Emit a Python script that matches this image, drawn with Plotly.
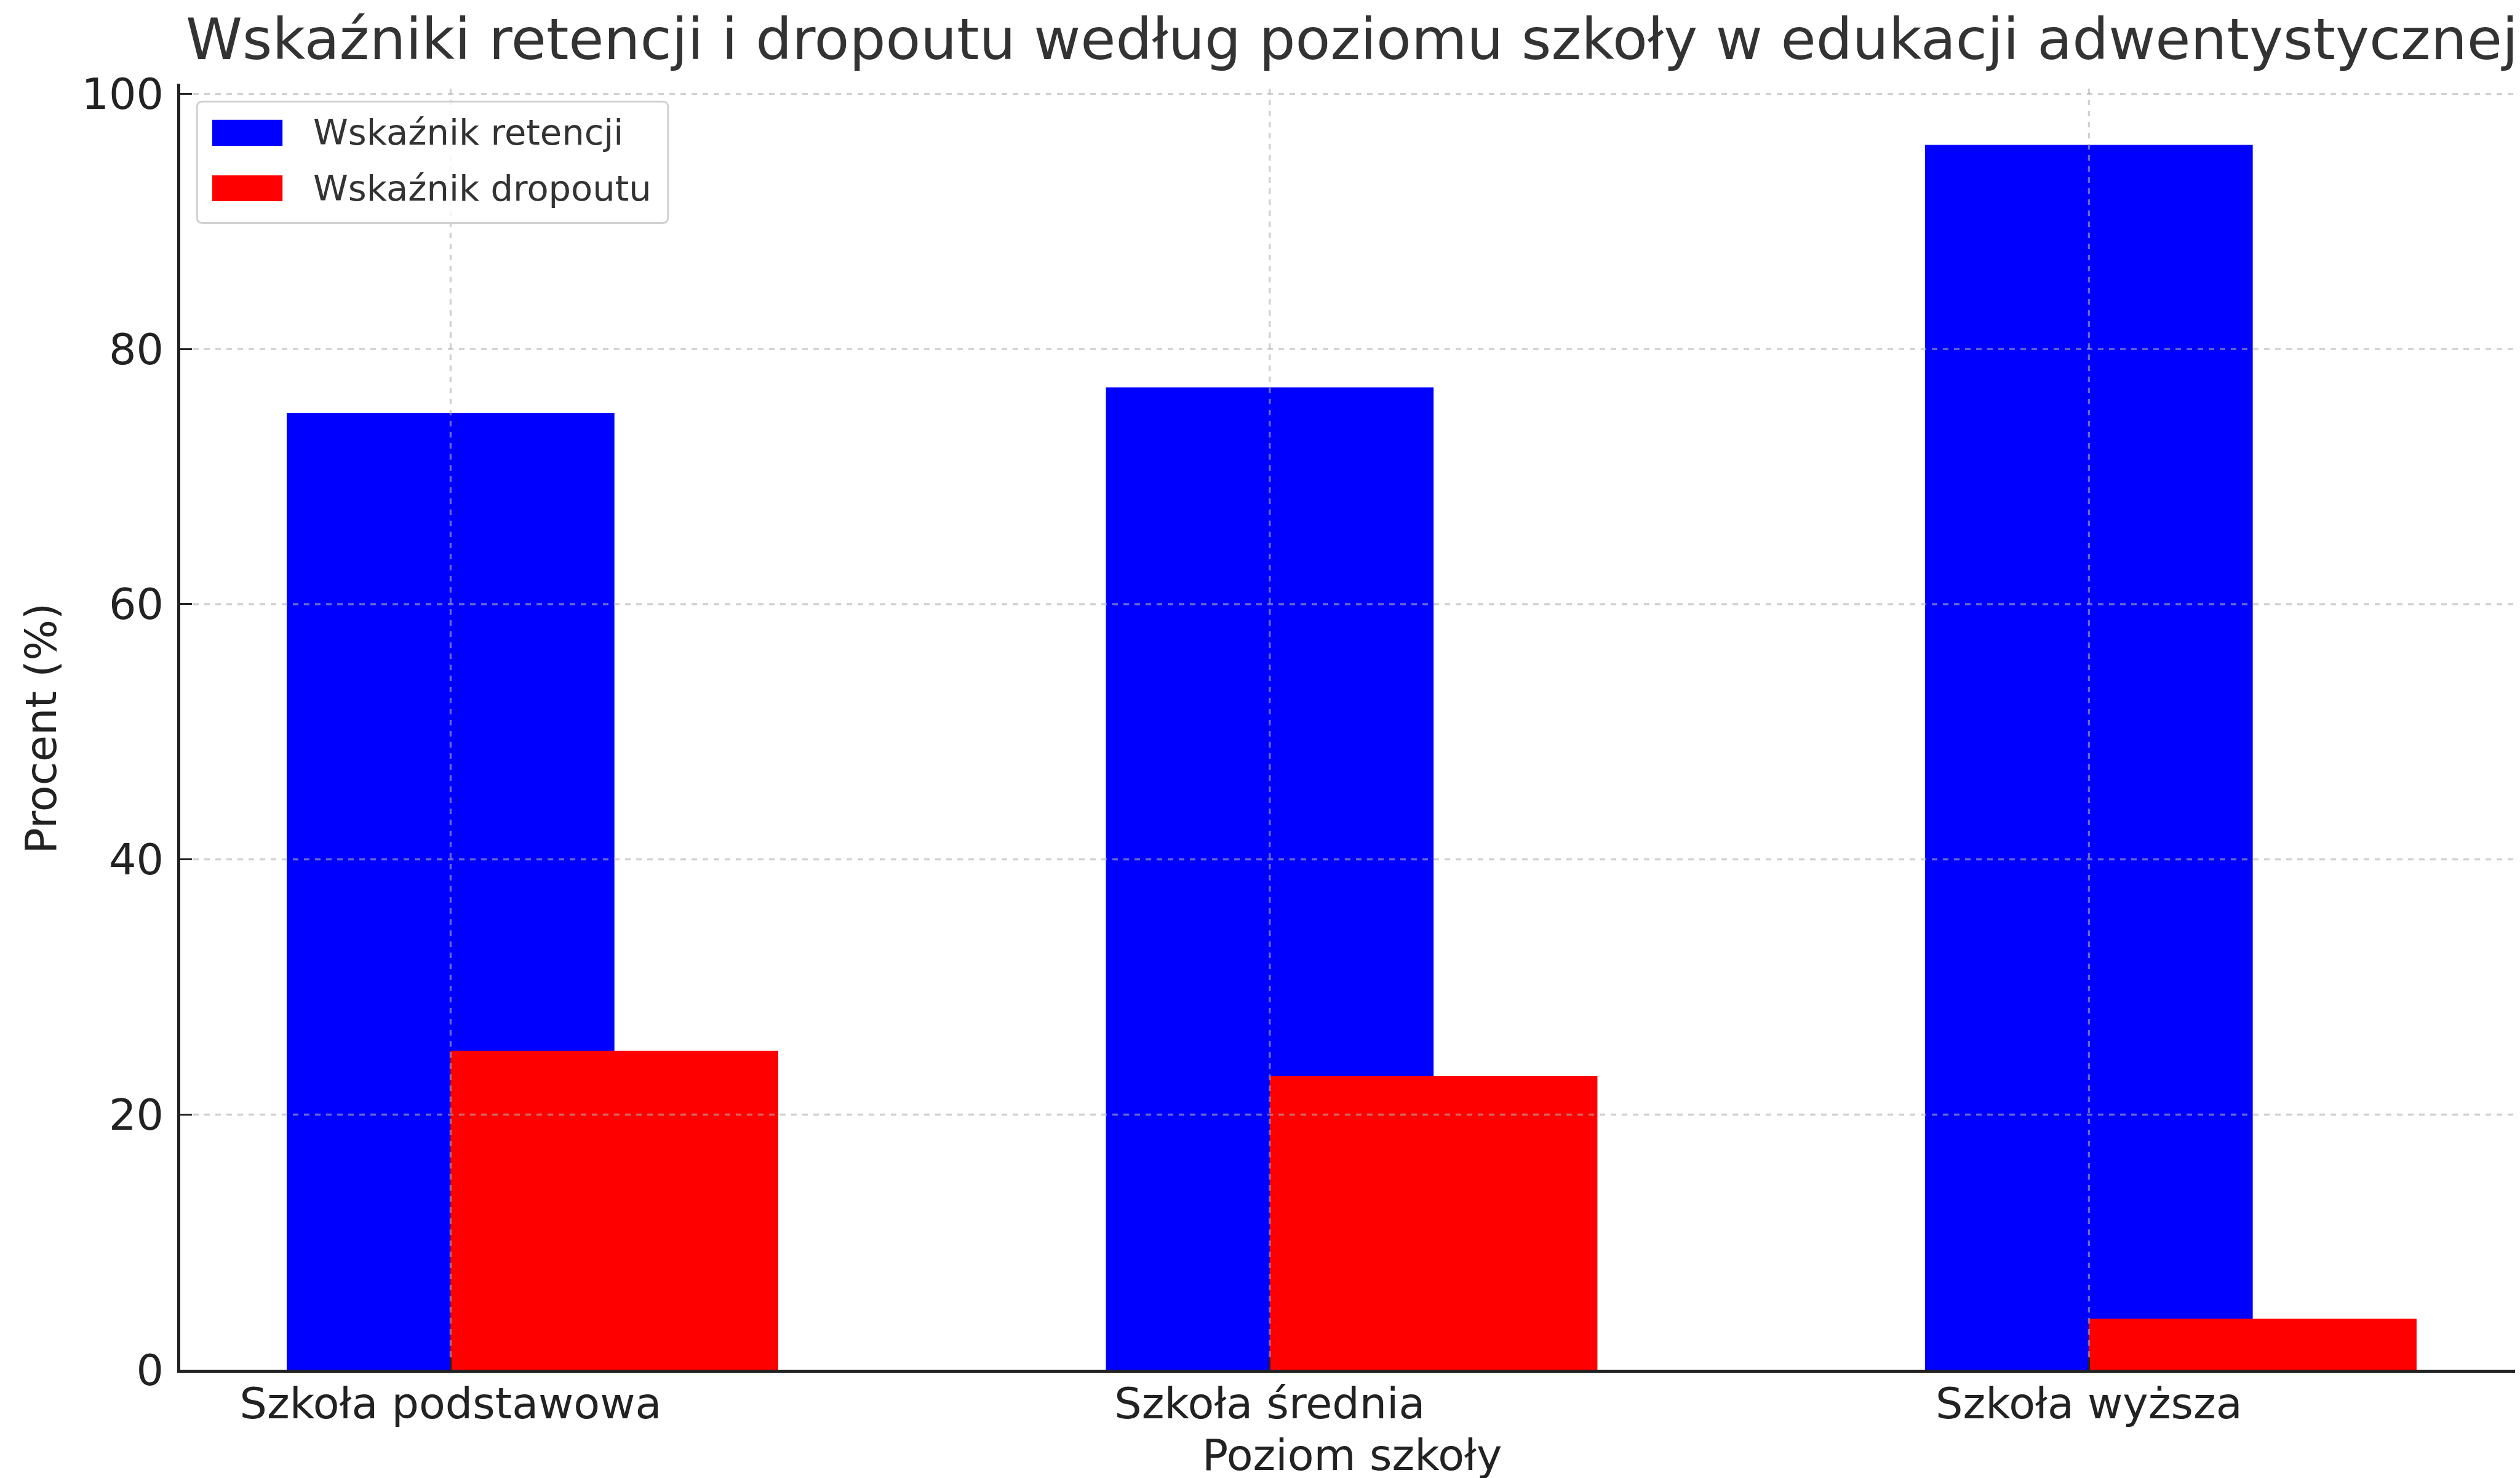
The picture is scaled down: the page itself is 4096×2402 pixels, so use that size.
import plotly.graph_objects as go

# ---- data ----
categories = ["Szkoła podstawowa", "Szkoła średnia", "Szkoła wyższa"]
retention = [75, 77, 96]
dropout = [25, 23, 4]
series_names = ["Wskaźnik retencji", "Wskaźnik dropoutu"]
series_colors = ["#0000ff", "#ff0000"]
y_ticks = [0, 20, 40, 60, 80, 100]
title_text = "Wskaźniki retencji i dropoutu według poziomu szkoły w edukacji adwentystycznej"
x_title = "Poziom szkoły"
y_title = "Procent (%)"

# ---- geometry ----
W, H = 4096, 2402
L, R, T, B = 285, 3, 128, 184
PW = W - L - R
PH = H - T - B
FONT = "DejaVu Sans"
TXT = "#222222"
TXT2 = "#333333"


def px_x(px):
    return (px - L) / PW


def px_y(py):
    return (H - B - py) / PH


xpos = list(range(len(categories)))
bar_w = 0.4

fig = go.Figure()
fig.add_trace(go.Bar(x=xpos, y=retention, name=series_names[0], width=bar_w, offset=-bar_w / 2,
                     marker=dict(color=series_colors[0], line=dict(width=0)), showlegend=False))
fig.add_trace(go.Bar(x=xpos, y=dropout, name=series_names[1], width=bar_w, offset=0,
                     marker=dict(color=series_colors[1], line=dict(width=0)), showlegend=False))

x_lo = -bar_w / 2 - 0.05 * (len(categories) - 1 + 1.5 * bar_w)
x_hi = len(categories) - 1 + bar_w + 0.05 * (len(categories) - 1 + 1.5 * bar_w)
y_hi = max(retention) * 1.05

ticklen = 19
shapes = []
grid_line = dict(color="rgba(176,176,176,0.6)", width=3.2, dash="9px,9px")
for yv in y_ticks[1:]:
    shapes.append(dict(type="line", xref="paper", yref="y", x0=px_x(L + ticklen + 2), x1=1,
                       y0=yv, y1=yv, line=grid_line, layer="above"))
for xv in xpos:
    shapes.append(dict(type="line", xref="x", yref="paper", x0=xv, x1=xv,
                       y0=px_y(H - B - ticklen - 2), y1=1, line=grid_line, layer="above"))

# manual legend box
lx0, lx1, ly0, ly1 = px_x(312.3), px_x(1077.8), px_y(157.1), px_y(354.5)
rx, ry = 9 / PW, 9 / PH
path = (f"M {lx0+rx},{ly0} L {lx1-rx},{ly0} Q {lx1},{ly0} {lx1},{ly0-ry} "
        f"L {lx1},{ly1+ry} Q {lx1},{ly1} {lx1-rx},{ly1} L {lx0+rx},{ly1} "
        f"Q {lx0},{ly1} {lx0},{ly1+ry} L {lx0},{ly0-ry} Q {lx0},{ly0} {lx0+rx},{ly0} Z")
shapes.append(dict(type="path", xref="paper", yref="paper", path=path,
                   fillcolor="rgba(255,255,255,0.8)", line=dict(color="#d0d0d0", width=2.9),
                   layer="above"))
sw_y = [(186.8, 229.0), (276.9, 319.0)]
for (a, b), c in zip(sw_y, series_colors):
    shapes.append(dict(type="rect", xref="paper", yref="paper", x0=px_x(336.9), x1=px_x(451.2),
                       y0=px_y(b), y1=px_y(a), fillcolor=c, line=dict(width=0), layer="above"))

annotations = [
    dict(text=title_text, xref="paper", yref="paper", x=0.5, y=px_y(56), xanchor="center",
         yanchor="middle", showarrow=False, font=dict(family=FONT, size=93, color=TXT2)),
    dict(text=x_title, xref="paper", yref="paper", x=0.5, y=px_y(2357), xanchor="center",
         yanchor="middle", showarrow=False, font=dict(family=FONT, size=70, color=TXT)),
    dict(text=y_title, xref="paper", yref="paper", x=px_x(58), y=px_y(1175.5), xanchor="center",
         yanchor="middle", textangle=-90, showarrow=False, font=dict(family=FONT, size=70, color=TXT)),
]
for name, yc in zip(series_names, [208, 298]):
    annotations.append(dict(text=name, xref="paper", yref="paper", x=px_x(499), y=px_y(yc),
                            xanchor="left", yanchor="middle", showarrow=False,
                            font=dict(family=FONT, size=57.5, color=TXT2)))

fig.update_layout(
    width=W, height=H,
    margin=dict(l=L, r=R, t=T, b=B, pad=0),
    paper_bgcolor="white", plot_bgcolor="white",
    barmode="overlay",
    font=dict(family=FONT, color=TXT),
    shapes=shapes,
    annotations=annotations,
    showlegend=False,
)
fig.update_xaxes(range=[x_lo, x_hi], tickmode="array", tickvals=xpos, ticktext=categories,
                 showgrid=False, zeroline=False, showline=True, linecolor=TXT, linewidth=5,
                 ticks="inside", ticklen=ticklen, tickwidth=3, tickcolor=TXT, ticklabelstandoff=-10,
                 tickfont=dict(family=FONT, size=70, color=TXT), automargin=False)
fig.update_yaxes(range=[0, y_hi], tickmode="array", tickvals=y_ticks,
                 showgrid=False, zeroline=False, showline=True, linecolor=TXT, linewidth=5,
                 ticks="inside", ticklen=ticklen, tickwidth=3, tickcolor=TXT, ticklabelstandoff=8,
                 tickfont=dict(family=FONT, size=70, color=TXT), automargin=False)

fig.write_html("out.html")
